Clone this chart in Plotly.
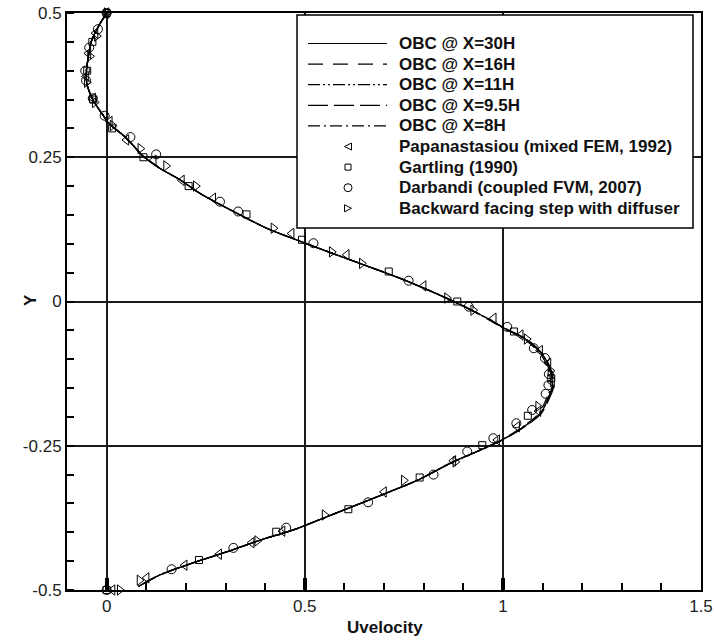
import plotly.graph_objects as go

# ---------------- data ----------------
obc_y = [0.5, 0.475, 0.45, 0.42, 0.40, 0.378, 0.35, 0.323, 0.31, 0.283, 0.252, 0.231, 0.211,
         0.1875, 0.156, 0.127, 0.101, 0.072, 0.040, 0.0055, -0.026, -0.046, -0.067, -0.096,
         -0.124, -0.148, -0.165, -0.194, -0.217, -0.240, -0.260, -0.280, -0.308, -0.335,
         -0.361, -0.387, -0.395, -0.413, -0.434, -0.453, -0.474, -0.494]
obc30_u = [0.0, -0.022, -0.039, -0.047, -0.051, -0.050, -0.035, -0.009, 0.004, 0.050, 0.092,
           0.134, 0.185, 0.235, 0.320, 0.404, 0.501, 0.615, 0.741, 0.859, 0.952, 1.003, 1.062,
           1.104, 1.121, 1.125, 1.116, 1.095, 1.053, 0.998, 0.935, 0.868, 0.790, 0.695, 0.600,
           0.505, 0.475, 0.390, 0.303, 0.218, 0.134, 0.080]
obc16_u = [0.0, -0.022, -0.039, -0.047, -0.051, -0.050, -0.035, -0.009, 0.004, 0.050, 0.092,
           0.134, 0.185, 0.235, 0.320, 0.404, 0.501, 0.615, 0.741, 0.859, 0.952, 1.003, 1.062,
           1.104, 1.121, 1.125, 1.116, 1.095, 1.053, 0.998, 0.935, 0.868, 0.790, 0.695, 0.600,
           0.505, 0.475, 0.390, 0.303, 0.218, 0.134, 0.080]
obc11_u = [0.0, -0.022, -0.039, -0.047, -0.051, -0.050, -0.035, -0.009, 0.004, 0.050, 0.092,
           0.134, 0.185, 0.235, 0.320, 0.404, 0.501, 0.615, 0.741, 0.859, 0.952, 1.003, 1.062,
           1.104, 1.121, 1.125, 1.116, 1.095, 1.053, 0.998, 0.935, 0.868, 0.790, 0.695, 0.600,
           0.505, 0.475, 0.390, 0.303, 0.218, 0.134, 0.080]
obc95_u = [0.0, -0.022, -0.039, -0.047, -0.051, -0.050, -0.035, -0.009, 0.004, 0.050, 0.092,
           0.134, 0.185, 0.235, 0.320, 0.404, 0.501, 0.615, 0.741, 0.859, 0.952, 1.004, 1.064,
           1.106, 1.124, 1.128, 1.119, 1.097, 1.055, 0.999, 0.935, 0.868, 0.790, 0.695, 0.600,
           0.505, 0.475, 0.390, 0.303, 0.218, 0.134, 0.080]
obc8_u = [0.0, -0.022, -0.039, -0.047, -0.051, -0.050, -0.035, -0.009, 0.004, 0.050, 0.092,
          0.134, 0.185, 0.235, 0.320, 0.404, 0.501, 0.615, 0.741, 0.859, 0.950, 1.000, 1.058,
          1.100, 1.117, 1.121, 1.112, 1.091, 1.050, 0.996, 0.934, 0.868, 0.790, 0.695, 0.600,
          0.505, 0.475, 0.390, 0.303, 0.218, 0.134, 0.080]

pap_u = [0.0, -0.028, -0.046, -0.052, -0.034, 0.008, 0.050, 0.119, 0.190, 0.269, 0.467, 0.606,
         0.800, 0.977, 1.045, 1.094, 1.115, 1.124, 1.090, 1.036, 0.986, 0.875, 0.700, 0.444,
         0.366, 0.284, 0.197, 0.101, 0.015]
pap_y = [0.5, 0.465, 0.43, 0.39, 0.352, 0.312, 0.28, 0.245, 0.21, 0.179, 0.118, 0.081, 0.027,
         -0.029, -0.058, -0.085, -0.107, -0.14, -0.19, -0.217, -0.240, -0.276, -0.33, -0.398,
         -0.418, -0.438, -0.457, -0.479, -0.5]

gart_u = [0.0, -0.036, -0.049, -0.034, 0.014, 0.093, 0.207, 0.353, 0.493, 0.712, 0.885, 1.028,
          1.122, 1.063, 0.948, 0.790, 0.610, 0.428, 0.233, 0.0]
gart_y = [0.5, 0.45, 0.40, 0.35, 0.30, 0.25, 0.20, 0.151, 0.107, 0.052, 0.0, -0.052, -0.133,
          -0.198, -0.249, -0.305, -0.36, -0.399, -0.448, -0.5]

darb_u = [0.0, -0.022, -0.044, -0.054, -0.052, -0.035, -0.005, 0.060, 0.125, 0.286, 0.332,
          0.522, 0.762, 0.914, 1.011, 1.078, 1.106, 1.116, 1.115, 1.108, 1.074, 1.034, 0.976,
          0.910, 0.825, 0.660, 0.453, 0.320, 0.164, 0.0]
darb_y = [0.5, 0.472, 0.44, 0.40, 0.383, 0.352, 0.322, 0.285, 0.255, 0.173, 0.156, 0.101,
          0.036, -0.009, -0.044, -0.081, -0.098, -0.126, -0.145, -0.160, -0.188, -0.211,
          -0.237, -0.260, -0.300, -0.348, -0.392, -0.427, -0.464, -0.5]

bfs_u = [0.0, -0.025, -0.042, -0.05, -0.03, 0.015, 0.085, 0.15, 0.225, 0.421, 0.568, 0.644,
         0.859, 0.925, 1.06, 1.12, 1.089, 0.88, 0.75, 0.55, 0.38, 0.083, 0.033]
bfs_y = [0.5, 0.46, 0.425, 0.38, 0.345, 0.305, 0.265, 0.235, 0.2, 0.127, 0.086, 0.066, 0.006,
         -0.015, -0.065, -0.12, -0.182, -0.278, -0.31, -0.37, -0.415, -0.483, -0.5]

x_tickvals = [0, 0.5, 1, 1.5]
x_ticktext = ["0", "0.5", "1", "1.5"]
y_tickvals = [0.5, 0.25, 0, -0.25, -0.5]
y_ticktext = ["0.5", "0.25", "0", "-0.25", "-0.5"]

line_labels = ["OBC @ X=30H", "OBC @ X=16H", "OBC @ X=11H", "OBC @ X=9.5H", "OBC @ X=8H"]
marker_labels = ["Papanastasiou (mixed FEM, 1992)", "Gartling (1990)",
                 "Darbandi (coupled FVM, 2007)", "Backward facing step with diffuser"]

# ---------------- styling ----------------
W, H = 714, 641
ML, MR, MT, MB = 67, 13, 13, 51
PW, PH = W - ML - MR, H - MT - MB
FONT = "Liberation Sans, Arial, Helvetica, sans-serif"
dashes = ["solid", "15px,10px", "12px,3px,2px,3px,2px,3px", "20px,6px", "12px,4px,2px,4px"]
symbols = ["triangle-left-open", "square-open", "circle-open", "triangle-right-open"]
sizes = [9, 7, 9, 9]


def px2x(px):
    return (px - ML) / PW


def py2y(py):
    return (H - MB - py) / PH


fig = go.Figure()

for u, lab, d in zip([obc30_u, obc16_u, obc11_u, obc95_u, obc8_u], line_labels, dashes):
    fig.add_trace(go.Scatter(x=u, y=obc_y, mode="lines", name=lab, showlegend=False,
                             line=dict(color="black", width=1.3, dash=d, shape="spline",
                                       smoothing=0.8),
                             cliponaxis=False))

for (u, y), lab, s, sz in zip([(pap_u, pap_y), (gart_u, gart_y), (darb_u, darb_y), (bfs_u, bfs_y)],
                              marker_labels, symbols, sizes):
    fig.add_trace(go.Scatter(x=u, y=y, mode="markers", name=lab, showlegend=False,
                             marker=dict(symbol=s, size=sz, color="black",
                                         line=dict(color="black", width=1)),
                             cliponaxis=False))

# ---------------- custom legend ----------------
shapes = []
annotations = []
shapes.append(dict(type="rect", xref="paper", yref="paper",
                   x0=px2x(297), x1=px2x(693), y0=py2y(228), y1=py2y(15),
                   line=dict(color="black", width=1.5), fillcolor="white", layer="above"))
row0, drow = 43.5, 20.6
for i, lab in enumerate(line_labels + marker_labels):
    cy = row0 + drow * i
    annotations.append(dict(xref="paper", yref="paper", x=px2x(397), y=py2y(cy),
                            xanchor="left", yanchor="middle", showarrow=False,
                            text="<b>%s</b>" % lab,
                            font=dict(family=FONT, size=17, color="#111")))
    if i < 5:
        shapes.append(dict(type="line", xref="paper", yref="paper",
                           x0=px2x(308), x1=px2x(387), y0=py2y(cy), y1=py2y(cy),
                           line=dict(color="black", width=1.2, dash=dashes[i]), layer="above"))
    else:
        cx = 348
        k = i - 5
        if k == 0:
            path = "M %f,%f L %f,%f L %f,%f Z" % (px2x(cx + 3.5), py2y(cy - 3.5), px2x(cx + 3.5),
                                                  py2y(cy + 3.5), px2x(cx - 3.5), py2y(cy))
            shapes.append(dict(type="path", xref="paper", yref="paper", path=path,
                               line=dict(color="black", width=1), layer="above"))
        elif k == 1:
            shapes.append(dict(type="rect", xref="paper", yref="paper",
                               x0=px2x(cx - 3), x1=px2x(cx + 3), y0=py2y(cy + 3), y1=py2y(cy - 3),
                               line=dict(color="black", width=1), layer="above"))
        elif k == 2:
            shapes.append(dict(type="circle", xref="paper", yref="paper",
                               x0=px2x(cx - 4), x1=px2x(cx + 4), y0=py2y(cy + 4), y1=py2y(cy - 4),
                               line=dict(color="black", width=1), layer="above"))
        else:
            path = "M %f,%f L %f,%f L %f,%f Z" % (px2x(cx - 3.5), py2y(cy - 3.5), px2x(cx - 3.5),
                                                  py2y(cy + 3.5), px2x(cx + 3.5), py2y(cy))
            shapes.append(dict(type="path", xref="paper", yref="paper", path=path,
                               line=dict(color="black", width=1), layer="above"))

# axis titles
annotations.append(dict(xref="paper", yref="paper", x=px2x(30), y=py2y(300),
                        xanchor="center", yanchor="middle", showarrow=False, textangle=-90,
                        text="<b>Y</b>", font=dict(family=FONT, size=17, color="#111")))
annotations.append(dict(xref="paper", yref="paper", x=px2x(385), y=py2y(627),
                        xanchor="center", yanchor="middle", showarrow=False,
                        text="<b>Uvelocity</b>", font=dict(family=FONT, size=17, color="#111")))

fig.update_layout(
    width=W, height=H,
    autosize=False,
    margin=dict(l=ML, r=MR, t=MT, b=MB, autoexpand=False),
    paper_bgcolor="white", plot_bgcolor="white",
    showlegend=False,
    shapes=shapes, annotations=annotations,
    xaxis=dict(range=[-0.1, 1.5], tickmode="array", tickvals=x_tickvals, ticktext=x_ticktext,
               automargin=False,
               ticks="inside", ticklen=12, tickwidth=4, tickcolor="black",
               showgrid=True, gridcolor="#1a1a1a", gridwidth=1.5, zeroline=False,
               showline=True, linecolor="black", linewidth=2, mirror=True,
               tickfont=dict(family=FONT, size=17, color="#222"),
               minor=dict(tickmode="linear", tick0=0, dtick=0.1, ticks="inside", ticklen=7,
                          tickwidth=1.5, tickcolor="black", showgrid=False)),
    yaxis=dict(range=[-0.5, 0.5], tickmode="array", tickvals=y_tickvals, ticktext=y_ticktext,
               automargin=False,
               ticks="", showgrid=True, gridcolor="#1a1a1a", gridwidth=1.5, zeroline=False,
               showline=True, linecolor="black", linewidth=2, mirror=True,
               tickfont=dict(family=FONT, size=17, color="#222"),
               ticklabelstandoff=0,
               minor=dict(tickmode="linear", tick0=0, dtick=0.05, ticks="inside", ticklen=7,
                          tickwidth=1.5, tickcolor="black", showgrid=False)),
)

fig.write_html("out.html", config={"displayModeBar": False},
               post_script="document.body.style.margin='0';"
                           "document.body.style.overflow='hidden';")
